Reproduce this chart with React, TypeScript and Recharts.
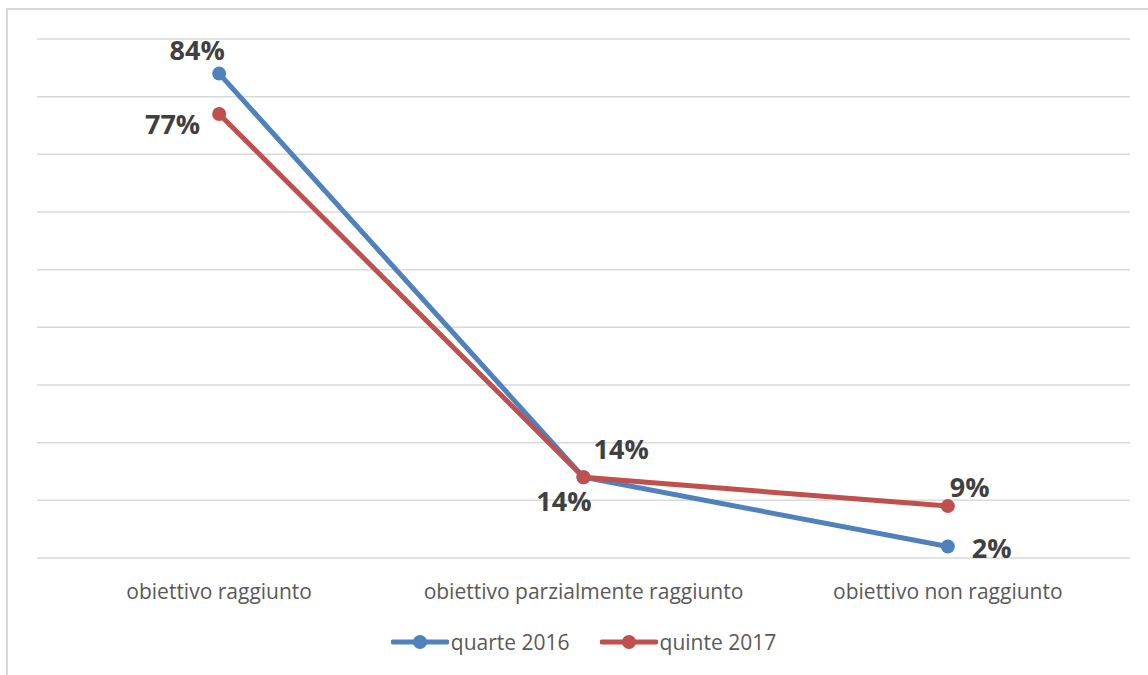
import { LineChart, Line, XAxis, YAxis, CartesianGrid, Legend, LabelList } from 'recharts';

const FONT = '"Open Sans", "Noto Sans", sans-serif';

const categories = ['obiettivo raggiunto', 'obiettivo parzialmente raggiunto', 'obiettivo non raggiunto'];
const quarte2016 = [0.84, 0.14, 0.02];
const quinte2017 = [0.77, 0.14, 0.09];
const yTicks = [0, 0.1, 0.2, 0.3, 0.4, 0.5, 0.6, 0.7, 0.8, 0.9];

const SERIES = [
  { key: 'quarte', name: 'quarte 2016', color: '#4f81bd' },
  { key: 'quinte', name: 'quinte 2017', color: '#c0504d' },
];

// label placement relative to the point: [anchor, dx, dy]
const BLUE_LABELS: [string, number, number][] = [['middle', -22, -24], ['end', 8, 23], ['start', 24, 1]];
const RED_LABELS: [string, number, number][] = [['end', -19, 10], ['start', 10, -29], ['start', 2, -20]];

const data = categories.map((c, i) => ({ name: c, quarte: quarte2016[i], quinte: quinte2017[i] }));

const pct = (v: number) => `${Math.round(v * 100)}%`;

function makeLabel(place: [string, number, number][]) {
  return (props: any) => {
    const { x, y, value, index } = props;
    const [anchor, dx, dy] = place[index];
    return (
      <text x={x + dx} y={y + dy} textAnchor={anchor as any} dominantBaseline="central"
        fontFamily={FONT} fontSize={27} fontWeight={700} fill="#404040">
        {pct(value)}
      </text>
    );
  };
}

function LegendContent() {
  return (
    <div style={{ display: 'flex', justifyContent: 'center', gap: 30, fontFamily: FONT, fontSize: 21, color: '#595959' }}>
      {SERIES.map(s => (
        <div key={s.key} style={{ display: 'flex', alignItems: 'center' }}>
          <svg width={58} height={16}>
            <line x1={2} y1={8} x2={56} y2={8} stroke={s.color} strokeWidth={5} strokeLinecap="round" />
            <circle cx={29} cy={8} r={7} fill={s.color} />
          </svg>
          <span style={{ marginLeft: 2 }}>{s.name}</span>
        </div>
      ))}
    </div>
  );
}

export default function App() {
  return (
    <div style={{ position: 'absolute', left: 0, top: 0, width: 1148, height: 675, background: '#fff' }}>
      <div style={{ position: 'absolute', left: 6, top: 8, width: 1200, height: 700, borderLeft: '2px solid #d9d9d9', borderTop: '2px solid #d9d9d9' }} />
      <div style={{ position: 'absolute', left: 0, top: 0 }}>
        <LineChart width={1148} height={675} data={data} margin={{ top: 39, right: 18, left: 37, bottom: 17 }}>
          <CartesianGrid vertical={false} horizontalValues={yTicks} stroke="#d9d9d9" strokeWidth={1.5} />
          <XAxis dataKey="name" scale="band" axisLine={false} tickLine={false} height={60} tickMargin={20}
            tick={{ fontFamily: FONT, fontSize: 21, fill: '#595959' }} interval={0} />
          <YAxis width={0} domain={[0, 0.9]} ticks={yTicks} interval={0} tick={() => null} axisLine={false} tickLine={false} />
          <Legend verticalAlign="bottom" height={40} content={<LegendContent />} wrapperStyle={{ top: 628, bottom: 'auto' }} />
          <Line dataKey="quarte" name="quarte 2016" stroke="#4f81bd" strokeWidth={5} isAnimationActive={false}
            dot={{ r: 7, fill: '#4f81bd', stroke: '#4f81bd', strokeWidth: 0 }}>
            <LabelList dataKey="quarte" content={makeLabel(BLUE_LABELS)} />
          </Line>
          <Line dataKey="quinte" name="quinte 2017" stroke="#c0504d" strokeWidth={5} isAnimationActive={false}
            dot={{ r: 7, fill: '#c0504d', stroke: '#c0504d', strokeWidth: 0 }}>
            <LabelList dataKey="quinte" content={makeLabel(RED_LABELS)} />
          </Line>
        </LineChart>
      </div>
    </div>
  );
}
